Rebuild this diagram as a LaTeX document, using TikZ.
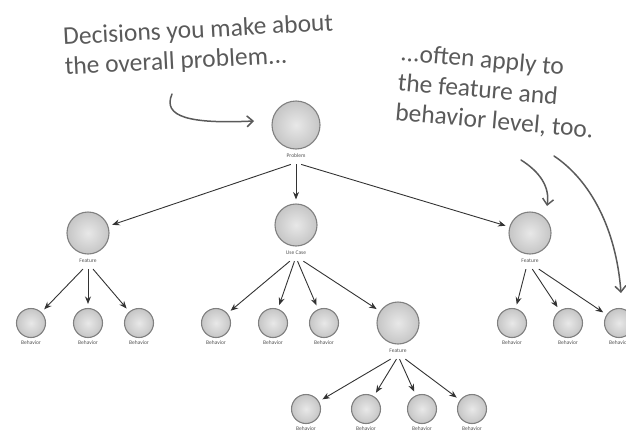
\documentclass[tikz,border=0pt]{standalone}
\usepackage{fontspec}
\setmainfont{Carlito}
\usetikzlibrary{positioning, arrows.meta}
\definecolor{ink}{HTML}{333333}
\definecolor{pencil}{HTML}{5A5A5A}
\definecolor{rim}{HTML}{808080}
\tikzset{
  hub/.style  = {circle, draw=rim, line width=1.1pt, inner sep=0pt,
                 inner color=gray!18, outer color=gray!45, minimum size=48pt},
  mid/.style  = {hub, minimum size=42pt},
  leaf/.style = {hub, minimum size=29pt},
  lbl/.style  = {font=\fontsize{5.5}{6}\selectfont, text=ink!85,
                 inner sep=1pt, outer sep=6pt},
  arr/.style  = {-{Stealth[length=7.5pt,width=6pt]}, line width=0.9pt,
                 draw=ink, shorten >=4pt},
  note/.style = {font=\fontsize{25.5}{30}\selectfont, text=pencil,
                 align=left, inner sep=0pt},
  harr/.style = {-{Straight Barb[length=6pt,width=11pt]}, line width=1.5pt,
                 draw=pencil, line cap=round},
}

\begin{document}
\begin{tikzpicture}[x=1pt, y=-1pt, on grid]
  \useasboundingbox (0,0) rectangle (626,434);

  % notes
  \node[note, rotate=3]  (noteL) at (199,46) {Decisions you make about\\the overall problem...};
  \node[note, rotate=-5] (noteR) at (497,92) {...often apply to\\the feature and\\behavior level, too.};

  % tree
  \node[hub, label={[lbl,name=probL,label distance=-3pt]below:Problem}] (prob) at (296,125) {};
  \node[mid, below left=108pt and 208pt of prob,
        label={[lbl,name=featLL,label distance=-3pt]below:Feature}]  (featL) {};
  \node[mid, below=100pt of prob,
        label={[lbl,name=ucL,label distance=-3pt]below:Use Case}]    (uc) {};
  \node[mid, below right=108pt and 234pt of prob,
        label={[lbl,name=featRL,label distance=-3pt]below:Feature}]  (featR) {};

  \node[leaf, below=90pt of featL,   label={[lbl,label distance=-4pt]below:Behavior}] (bL2) {};
  \node[leaf, left=57pt of bL2,      label={[lbl,label distance=-4pt]below:Behavior}] (bL1) {};
  \node[leaf, right=51pt of bL2,     label={[lbl,label distance=-4pt]below:Behavior}] (bL3) {};

  \node[leaf, below left=98pt and 80pt of uc, label={[lbl,label distance=-4pt]below:Behavior}] (bM1) {};
  \node[leaf, right=57pt of bM1,     label={[lbl,label distance=-4pt]below:Behavior}] (bM2) {};
  \node[leaf, right=51pt of bM2,     label={[lbl,label distance=-4pt]below:Behavior}] (bM3) {};
  \node[mid, right=74pt of bM3,
        label={[lbl,name=featML,label distance=-3pt]below:Feature}] (featM) {};

  \node[leaf, below left=90pt and 18pt of featR, label={[lbl,label distance=-4pt]below:Behavior}] (bR1) {};
  \node[leaf, right=56pt of bR1,     label={[lbl,label distance=-4pt]below:Behavior}] (bR2) {};
  \node[leaf, right=51pt of bR2,     label={[lbl,label distance=-4pt]below:Behavior}] (bR3) {};

  \node[leaf, below left=86pt and 92pt of featM, label={[lbl,label distance=-4pt]below:Behavior}] (bB1) {};
  \node[leaf, right=60pt of bB1,     label={[lbl,label distance=-4pt]below:Behavior}] (bB2) {};
  \node[leaf, right=56pt of bB2,     label={[lbl,label distance=-4pt]below:Behavior}] (bB3) {};
  \node[leaf, right=50pt of bB3,     label={[lbl,label distance=-4pt]below:Behavior}] (bB4) {};

  \draw[arr] (probL.-120) -- (featL);
  \draw[arr] (probL.south) -- (uc);
  \draw[arr] (probL.-60)  -- (featR);

  \draw[arr] (featLL.-120) -- (bL1);
  \draw[arr] (featLL.south) -- (bL2);
  \draw[arr] (featLL.-60)  -- (bL3);

  \draw[arr] (ucL.-125) -- (bM1);
  \draw[arr] (ucL.-100) -- (bM2);
  \draw[arr] (ucL.-80)  -- (bM3);
  \draw[arr] (ucL.-50)  -- (featM);

  \draw[arr] (featML.-130) -- (bB1);
  \draw[arr] (featML.-100) -- (bB2);
  \draw[arr] (featML.-80)  -- (bB3);
  \draw[arr] (featML.-50)  -- (bB4);

  \draw[arr] (featRL.-115) -- (bR1);
  \draw[arr] (featRL.-75)  -- (bR2);
  \draw[arr] (featRL.-45)  -- (bR3);

  % hand arrows
  \coordinate (curlL) at (172,94);
  \coordinate (tipL)  at (254,121);
  \coordinate (curlR) at (521,160);
  \coordinate (tipR)  at (547,206);
  \coordinate (curlF) at (554,156);
  \coordinate (tipF)  at (621,293);
  \draw[harr] (curlL) .. controls (162,117) and (190,124) .. (tipL);
  \draw[harr] (curlR) .. controls (540,172) and (550,187) .. (tipR);
  \draw[harr] (curlF) .. controls (590,180) and (616,228) .. (tipF);
\end{tikzpicture}
\end{document}
